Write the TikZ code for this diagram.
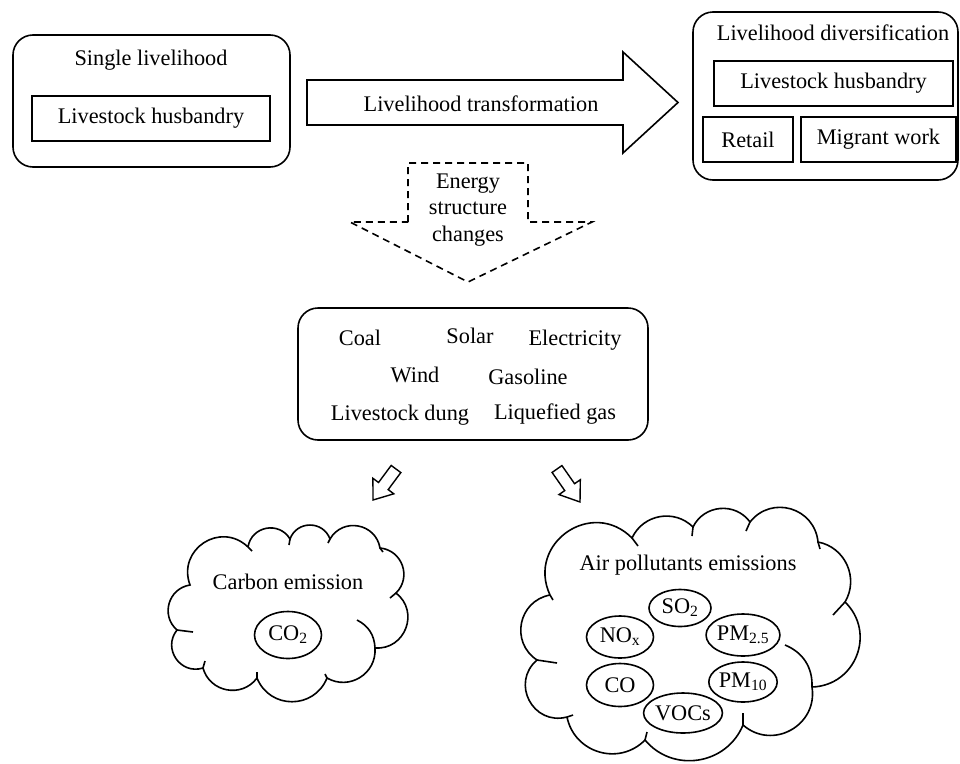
\documentclass[tikz,border=0pt]{standalone}
\usepackage{fontspec}
\setmainfont{Liberation Serif}
\usetikzlibrary{shapes.geometric,calc}
\begin{document}
\begin{tikzpicture}[x=1pt,y=-1pt,line width=1.6pt,
  txt/.style={font=\fontsize{22.3}{26.5}\selectfont, inner sep=0pt},
  rbox/.style={draw, rounded corners=20pt, inner sep=0pt},
  ibox/.style={draw, inner sep=0pt, minimum height=45pt, font=\fontsize{22.3}{26.5}\selectfont},
  ell/.style={draw, ellipse, inner sep=0pt, minimum width=67pt, minimum height=42pt, font=\fontsize{22.3}{26.5}\selectfont}]
\useasboundingbox (0,0) rectangle (960,763);

% top left box
\node[rbox, minimum width=277pt, minimum height=132pt] (single) at (151.5,101) {};
\node[txt] (singlet) at (151,60) {Single\ livelihood};
\node[ibox, minimum width=238pt] (lh1) at (151,118.5) {Livestock husbandry};

% big arrow
\draw (307,80) -- (623,80) -- (623,52) -- (678,102.5) -- (623,153) -- (623,125) -- (307,125) -- cycle;
\node[txt] (trans) at (481,104) {Livelihood\ transformation};

% right box
\node[rbox, minimum width=265pt, minimum height=168pt] (div) at (825.5,96) {};
\node[txt] (divt) at (833,33) {Livelihood\ diversification};
\node[ibox, minimum width=239pt] (lh2) at (833.5,83.5) {Livestock husbandry};
\node[ibox, minimum width=90pt] (retail) at (748,139.5) {Retail};
\node[ibox, minimum width=155pt] (migrant) at (878.5,139.5) {Migrant\ work};

% dashed arrow
\draw[dash pattern=on 7pt off 5pt] (408,222) -- (408,163) -- (528,163) -- (528,222) -- (592,222) -- (468,282) -- (350,222) -- cycle;
\node[txt, align=center] (energy) at (468,210) {Energy\\structure\\changes};

% energy mix box
\node[rbox, minimum width=350pt, minimum height=132pt] (mix) at (473,374) {};
\node[txt] (coal) at (360,338) {Coal};
\node[txt] (solar) at (470,336) {Solar};
\node[txt] (elec) at (575,340) {Electricity};
\node[txt] (wind) at (415,375) {Wind};
\node[txt] (gas) at (528,377) {Gasoline};
\node[txt] (dung) at (400,415) {Livestock dung};
\node[txt] (lpg) at (555,414) {Liquefied\ gas};

% small block arrows
\coordinate (tl) at (396,469); \coordinate (tlp) at (373,500);
\coordinate (tr) at (557,469); \coordinate (trp) at (580,502);
\foreach \T/\P in {tl/tlp, tr/trp}{
  \coordinate (H) at ($(\T)!0.55!(\P)$);
  \draw[line width=1.4pt] ($(\T)!6pt!90:(\P)$) -- ($(H)!6pt!-90:(\T)$) -- ($(H)!13pt!-90:(\T)$) -- (\P)
     -- ($(H)!13pt!90:(\T)$) -- ($(H)!6pt!90:(\T)$) -- ($(\T)!6pt!-90:(\P)$) -- cycle;
}

% left cloud
\coordinate (P1) at (248,547); \coordinate (P2) at (290,539); \coordinate (P3) at (330,539);
\coordinate (P4) at (380,548); \coordinate (P5) at (396,593); \coordinate (P6) at (375,648);
\coordinate (P7) at (327,678); \coordinate (P8) at (257,678); \coordinate (P9) at (203,668);
\coordinate (P10) at (177,630); \coordinate (P11) at (190,585);
\draw (P1) to[bend left=70,looseness=1.27] (P2) to[bend left=70,looseness=1.27] (P3)
  to[bend left=70,looseness=1.27] (P4) to[bend left=65,looseness=1.2] (P5)
  to[bend left=73,looseness=1.32] (P6) to[bend left=62,looseness=1.16] (P7)
  to[bend left=68,looseness=1.25] (P8) to[bend left=64,looseness=1.18] (P9)
  to[bend left=73,looseness=1.32] (P10) to[bend left=65,looseness=1.2] (P11)
  to[bend left=77,looseness=1.4] (P1);
\draw (P1) -- ++(4,4); \draw (P2) -- ++(-1,6); \draw (P3) -- ++(-2,4);
\draw (P4) -- ++(3,4); \draw (P5) -- ++(-6,5); \draw (P10) -- ++(16,2);
\draw (P9) -- ++(2,-7); \draw (P8) -- ++(0,-6); \draw (P7) -- ++(-2,-4);
\draw (357,620) to[bend left=30] (P6);
\node[txt] (carbon) at (288,582) {Carbon emission};
\node[ell, minimum height=47pt] (co2) at (288,635) {CO\textsubscript{2}};

% right cloud
\coordinate (R1) at (550,595); \coordinate (R2) at (632,538); \coordinate (R3) at (693,527);
\coordinate (R4) at (750,522); \coordinate (R5) at (818,542); \coordinate (R6) at (845,602);
\coordinate (R7) at (812,687); \coordinate (R8) at (743,725); \coordinate (R9) at (645,740);
\coordinate (R10) at (567,717); \coordinate (R11) at (537,660);
\draw (R1) to[bend left=80,looseness=1.46] (R2) to[bend left=55,looseness=1.08] (R3)
  to[bend left=59,looseness=1.12] (R4) to[bend left=68,looseness=1.25] (R5)
  to[bend left=55,looseness=1.08] (R6) to[bend left=67,looseness=1.23] (R7)
  to[bend left=70,looseness=1.27] (R8) to[bend left=59,looseness=1.12] (R9)
  to[bend left=62,looseness=1.16] (R10) to[bend left=77,looseness=1.4] (R11)
  to[bend left=68,looseness=1.25] (R1);
\draw (R1) -- ++(3,5); \draw (R2) -- ++(6,8); \draw (R3) -- ++(-1,9); \draw (R4) -- ++(-4,9);
\draw (R5) -- ++(2,7); \draw (R6) -- ++(-12,13); \draw (R8) -- ++(0,-12);
\draw (R9) -- ++(2,-8); \draw (R10) -- ++(6,-2); \draw (R11) -- ++(20,3);
\draw (785,645) to[bend left=35] (R7);
\node[txt] (air) at (688,565) {Air\ pollutants\ emissions};
\node[ell, minimum height=37pt, minimum width=62pt] (so2) at (680,608) {SO\textsubscript{2}};
\node[ell] (nox) at (620,637) {NO\textsubscript{x}};
\node[ell] (pm25) at (743,635) {PM\textsubscript{2.5}};
\node[ell, minimum height=43pt] (co) at (620,685) {CO};
\node[ell, minimum height=40pt] (pm10) at (743,682) {PM\textsubscript{10}};
\node[ell, minimum height=40pt] (vocs) at (683,713) {VOCs};
\end{tikzpicture}
\end{document}
